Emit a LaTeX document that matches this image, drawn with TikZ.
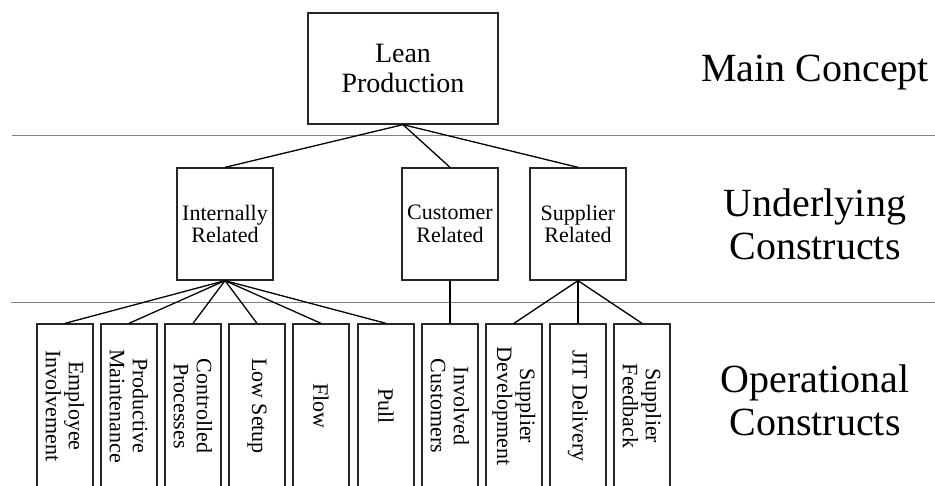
\documentclass[tikz,border=0pt]{standalone}
\usepackage{fontspec}
\setmainfont{Liberation Serif}
\begin{document}
\begin{tikzpicture}[x=1pt,y=-1pt,
  boxline/.style={draw=black!85, line width=1.3pt},
  topbox/.style={boxline, minimum width=190pt, minimum height=111pt, inner sep=0pt,
    align=center, font=\fontsize{28}{30}\selectfont},
  midbox/.style={boxline, minimum width=96pt, minimum height=112pt, inner sep=0pt,
    align=center, font=\fontsize{22}{22.5}\selectfont},
  opbox/.style={boxline, minimum width=56pt, minimum height=164pt, inner sep=0pt},
  optext/.style={rotate=-90, align=center, font=\fontsize{22}{23}\selectfont, inner sep=0pt},
  levelname/.style={anchor=base, inner sep=0pt, font=\fontsize{40}{43}\selectfont},
  link/.style={draw=black, line width=1.3pt},
  divider/.style={draw=black!50, line width=1pt}]
\clip (0,0) rectangle (935,486);
\fill[white] (0,0) rectangle (935,486);

% level dividers
\coordinate (d1l) at (12,136);  \coordinate (d1r) at (935,136);
\coordinate (d2l) at (11,303);  \coordinate (d2r) at (935,303);
\draw[divider] (d1l) -- (d1r);
\draw[divider] (d2l) -- (d2r);

% level names
\node[levelname] (lvl1) at (815,82) {Main Concept};
\node[levelname] (lvl2) at (815,217) {\begin{tabular}[t]{@{}c@{}}Underlying\\Constructs\end{tabular}};
\node[levelname] (lvl3) at (815,393) {\begin{tabular}[t]{@{}c@{}}Operational\\Constructs\end{tabular}};

% main concept
\node[topbox] (lean) at (403,68.5) {Lean\\Production};

% underlying constructs
\node[midbox] (ir) at (225,224) {Internally\\Related};
\node[midbox] (cr) at (450,224) {Customer\\Related};
\node[midbox] (sr) at (578,224) {Supplier\\Related};

% operational constructs
\foreach \n/\x/\t in {e1/65/{Employee\\Involvement},
                      e2/129/{Productive\\Maintenance},
                      e3/193/{Controlled\\Processes},
                      e4/257/{Low Setup},
                      e5/321/{Flow},
                      e6/386/{Pull},
                      c1/450/{Involved\\Customers},
                      s1/514/{Supplier\\Development},
                      s2/578/{JIT Delivery},
                      s3/642/{Supplier\\Feedback}}{
  \node[opbox] (\n) at (\x,406) {};
  \node[optext] (\n-t) at (\n.center) {\t};
}

% connectors
\foreach \m in {ir,cr,sr}{\draw[link] (lean.south) -- (\m.north);}
\foreach \m in {e1,e2,e3,e4,e5,e6}{\draw[link] (ir.south) -- (\m.north);}
\draw[link] (cr.south) -- (c1.north);
\foreach \m in {s1,s2,s3}{\draw[link] (sr.south) -- (\m.north);}
\end{tikzpicture}
\end{document}
